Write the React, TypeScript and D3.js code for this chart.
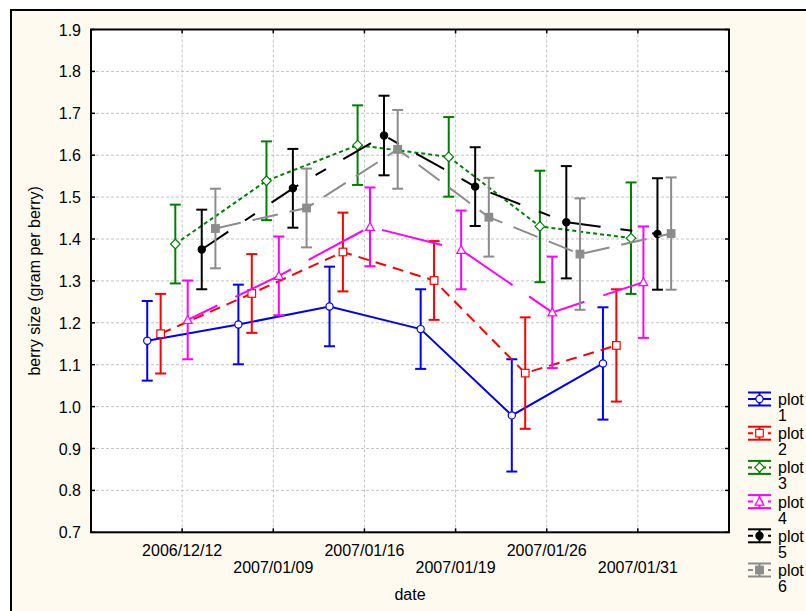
import React from "react";
import * as d3 from "d3";

const categories = ["2006/12/12", "2007/01/09", "2007/01/16", "2007/01/19", "2007/01/26", "2007/01/31"];
const seriesNames = ["plot 1", "plot 2", "plot 3", "plot 4", "plot 5", "plot 6"];

const plot1Mean = [1.157, 1.196, 1.239, 1.185, 0.979, 1.103];
const plot1Err = [0.095, 0.095, 0.095, 0.095, 0.134, 0.134];
const plot2Mean = [1.174, 1.270, 1.369, 1.301, 1.080, 1.146];
const plot2Err = [0.095, 0.094, 0.094, 0.094, 0.133, 0.134];
const plot3Mean = [1.388, 1.539, 1.624, 1.596, 1.430, 1.402];
const plot3Err = [0.094, 0.094, 0.095, 0.095, 0.133, 0.133];
const plot4Mean = [1.207, 1.312, 1.429, 1.374, 1.225, 1.297];
const plot4Err = [0.094, 0.094, 0.094, 0.094, 0.133, 0.133];
const plot5Mean = [1.375, 1.521, 1.647, 1.525, 1.440, 1.412];
const plot5Err = [0.095, 0.094, 0.095, 0.094, 0.134, 0.133];
const plot6Mean = [1.425, 1.474, 1.614, 1.452, 1.364, 1.413];
const plot6Err = [0.095, 0.094, 0.094, 0.094, 0.133, 0.134];

const yDomain = [0.7, 1.9];

type Style = { color: string; dash: string; dashOffset: number; marker: string; filled: boolean; offset: number };

const styles: Style[] = [
  { color: "#0000ff", dash: "none", dashOffset: 0, marker: "circle", filled: false, offset: -0.383 },
  { color: "#ff0000", dash: "11,7", dashOffset: 0, marker: "square", filled: false, offset: -0.236 },
  { color: "#008000", dash: "4,3", dashOffset: 0, marker: "diamond", filled: false, offset: -0.075 },
  { color: "#ff00ff", dash: "62,20", dashOffset: 29, marker: "triangle", filled: false, offset: 0.061 },
  { color: "#000000", dash: "32,20,12,20", dashOffset: 0, marker: "circle", filled: true, offset: 0.215 },
  { color: "#8c8c8c", dash: "26,12", dashOffset: 0, marker: "square", filled: true, offset: 0.365 },
];

const means = [plot1Mean, plot2Mean, plot3Mean, plot4Mean, plot5Mean, plot6Mean];
const errs = [plot1Err, plot2Err, plot3Err, plot4Err, plot5Err, plot6Err];

const FONT = "'Liberation Sans', Arial, sans-serif";

function Marker({ type, cx, cy, color, filled }: { type: string; cx: number; cy: number; color: string; filled: boolean }) {
  const fill = filled ? color : "#ffffff";
  if (type === "circle") return <circle cx={cx} cy={cy} r={3.6} fill={fill} stroke={color} strokeWidth={1.2} />;
  if (type === "square") return <rect x={cx - 3.8} y={cy - 3.8} width={7.6} height={7.6} fill={fill} stroke={color} strokeWidth={1.2} />;
  if (type === "diamond") {
    const r = 4.8;
    return <path d={`M${cx},${cy - r}L${cx + r},${cy}L${cx},${cy + r}L${cx - r},${cy}Z`} fill={fill} stroke={color} strokeWidth={1.2} />;
  }
  const s = 4.4;
  return <path d={`M${cx},${cy - s}L${cx + s},${cy + s * 0.8}L${cx - s},${cy + s * 0.8}Z`} fill={fill} stroke={color} strokeWidth={1.2} />;
}

export default function App() {
  const W = 806, H = 611;
  const L = 91, R = 729, T = 29.5, B = 532.3;
  const x = d3.scaleLinear().domain([0, categories.length + 1]).range([L, R]);
  const y = d3.scaleLinear().domain(yDomain).range([B, T]);
  const yTicks = y.ticks(12);
  const fmt = d3.format(".1f");
  const capHalf = 5.5;

  return (
    <svg width={W} height={H} style={{ position: "absolute", left: 0, top: 0, background: "#ffffff" }} fontFamily={FONT}>
      <rect x={11} y={10} width={W + 10} height={H + 10} fill="#fffaf0" stroke="#000" strokeWidth={2} />
      <rect x={L} y={T} width={R - L} height={B - T} fill="#ffffff" />
      {/* grid */}
      {yTicks.filter((t) => t > yDomain[0] + 1e-6 && t < yDomain[1] - 1e-6).map((t) => (
        <line key={"gy" + t} x1={L} x2={R} y1={y(t)} y2={y(t)} stroke="#c4c4c4" strokeWidth={1} strokeDasharray="3,2" />
      ))}
      {categories.map((c, i) => (
        <line key={"gx" + c} x1={x(i + 1)} x2={x(i + 1)} y1={T} y2={B} stroke="#c4c4c4" strokeWidth={1} strokeDasharray="3,2" />
      ))}
      {/* frame ticks */}
      {yTicks.map((t) => (
        <g key={"ty" + t}>
          <line x1={L} x2={L + 4} y1={y(t)} y2={y(t)} stroke="#000" strokeWidth={1.5} />
          <line x1={R - 4} x2={R} y1={y(t)} y2={y(t)} stroke="#000" strokeWidth={1.5} />
          <text x={81} y={y(t) + 6} textAnchor="end" fontSize={16} fill="#000">{fmt(t)}</text>
        </g>
      ))}
      {categories.map((c, i) => (
        <g key={"tx" + c}>
          <line x1={x(i + 1)} x2={x(i + 1)} y1={B} y2={B - 4} stroke="#000" strokeWidth={1.5} />
          <line x1={x(i + 1)} x2={x(i + 1)} y1={T} y2={T + 4} stroke="#000" strokeWidth={1.5} />
          <text x={x(i + 1)} y={i % 2 === 0 ? B + 23.5 : B + 41} textAnchor="middle" fontSize={16} fill="#000">{c}</text>
        </g>
      ))}
      {/* series */}
      {styles.map((st, s) => {
        const pts = means[s].map((m, i) => [x(i + 1 + st.offset), y(m)] as [number, number]);
        const line = d3.line()(pts) || "";
        return (
          <g key={"s" + s}>
            <path d={line} fill="none" stroke={st.color} strokeWidth={2} strokeDasharray={st.dash} strokeDashoffset={st.dashOffset} />
            {means[s].map((m, i) => {
              const cx = x(i + 1 + st.offset);
              const y1 = y(m + errs[s][i]);
              const y2 = y(m - errs[s][i]);
              return (
                <g key={"e" + i}>
                  <line x1={cx} x2={cx} y1={y1} y2={y2} stroke={st.color} strokeWidth={2} />
                  <line x1={cx - capHalf} x2={cx + capHalf} y1={y1} y2={y1} stroke={st.color} strokeWidth={2} />
                  <line x1={cx - capHalf} x2={cx + capHalf} y1={y2} y2={y2} stroke={st.color} strokeWidth={2} />
                </g>
              );
            })}
            {means[s].map((m, i) => (
              <Marker key={"m" + i} type={st.marker} cx={x(i + 1 + st.offset)} cy={y(m)} color={st.color} filled={st.filled} />
            ))}
          </g>
        );
      })}
      <rect x={L} y={T} width={R - L} height={B - T} fill="none" stroke="#000" strokeWidth={2} />
      {/* axis titles */}
      <text x={(L + R) / 2} y={600} textAnchor="middle" fontSize={16} fill="#000">date</text>
      <text transform={`translate(40,${(T + B) / 2}) rotate(-90)`} textAnchor="middle" fontSize={16} fill="#000">berry size (gram per berry)</text>
      {/* legend */}
      {seriesNames.map((name, i) => {
        const st = styles[i];
        const base = 405 + i * 34.2;
        const mid = base - 6;
        const x0 = 748, x1 = 771, cxm = (x0 + x1) / 2;
        const parts = name.split(" ");
        return (
          <g key={"lg" + i}>
            <line x1={x0} x2={x1} y1={mid - 6.5} y2={mid - 6.5} stroke={st.color} strokeWidth={2} />
            <line x1={x0} x2={x1} y1={mid + 6.5} y2={mid + 6.5} stroke={st.color} strokeWidth={2} />
            <line x1={cxm} x2={cxm} y1={mid - 6.5} y2={mid + 6.5} stroke={st.color} strokeWidth={2} />
            <line x1={x0} x2={x1} y1={mid} y2={mid} stroke={st.color} strokeWidth={2} strokeDasharray={st.dash === "none" ? "none" : st.dash.split(",").slice(0, 2).map((v) => Math.min(+v, 5)).join(",")} />
            <Marker type={st.marker} cx={cxm} cy={mid} color={st.color} filled={st.filled} />
            <text x={778} y={base} fontSize={16} fill="#000">{parts[0]}</text>
            <text x={778} y={base + 16} fontSize={16} fill="#000">{parts[1]}</text>
          </g>
        );
      })}
    </svg>
  );
}
